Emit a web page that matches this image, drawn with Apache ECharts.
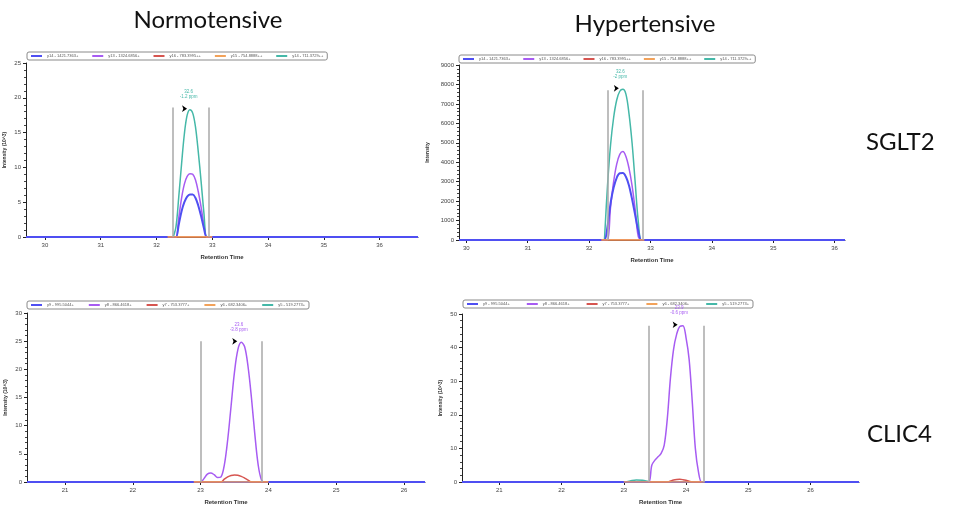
<!DOCTYPE html>
<html>
<head>
<meta charset="utf-8">
<title>SGLT2 / CLIC4 chromatograms</title>
<script src="https://cdn.jsdelivr.net/npm/echarts@6/dist/echarts.min.js"></script>
<style>
  html, body { margin: 0; padding: 0; background: #fff; }
  #chart { width: 961px; height: 506px; }
</style>
</head>
<body>
<div id="chart"></div>
<script>
// transition names shown in each legend
const sgltNames = ['y14 - 1421.7363+', 'y13 - 1324.6856+', 'y16 - 783.3995++', 'y15 - 754.8888++', 'y14 - 711.3729++']
const clicNames = ['y9 - 995.5044+', 'y8 - 866.4618+', 'y7 - 753.3777+', 'y6 - 682.3406+', 'y5 - 519.2773+']
const traceColors = ['#4f4ff2', '#a75cf2', '#d65550', '#f2a25a', '#45b8a8']

// --- SGLT2, normotensive (intensity x10^3) ---
const p1Rt     = [29.66, 32.2, 32.3, 32.35, 32.4, 32.45, 32.5, 32.55, 32.6, 32.65, 32.7, 32.75, 32.8, 32.85, 32.9, 32.95, 33.0, 36.69]
const p1Blue   = [0, 0, 0, 0, 1.8, 3.7, 5.0, 5.8, 6.1, 6.1, 5.6, 4.5, 3.0, 1.3, 0, 0, 0, 0]
const p1Purple = [null, null, 0, 0, 2.8, 5.6, 7.6, 8.7, 9.1, 9.0, 8.2, 6.5, 4.3, 1.8, 0, 0, null, null]
const p1Red    = [null, 0, 0, 0, 0, 0, 0, 0, 0, 0, 0, 0, 0, 0, 0, 0, 0, null]
const p1Orange = [null, 0, 0, 0, 0, 0, 0, 0, 0, 0, 0, 0, 0, 0, 0, 0, 0, null]
const p1Teal   = [null, null, 0, 1.5, 5.8, 10.5, 14.8, 17.5, 18.3, 17.8, 15.8, 12.2, 8.0, 3.5, 0, 0, null, null]

// --- SGLT2, hypertensive (intensity) ---
const p2Rt     = [29.88, 32.2, 32.25, 32.3, 32.35, 32.4, 32.45, 32.5, 32.55, 32.6, 32.65, 32.7, 32.75, 32.8, 32.85, 32.9, 36.17]
const p2Blue   = [0, 0, 0, 700, 1900, 2700, 3200, 3430, 3440, 3250, 2800, 2100, 1300, 500, 0, 0, 0]
const p2Purple = [null, null, 0, 0, 1700, 3000, 3900, 4400, 4550, 4300, 3700, 2800, 1600, 200, 0, 0, null]
const p2Red    = [null, 0, 0, 0, 0, 0, 0, 0, 0, 0, 0, 0, 0, 0, 0, 0, null]
const p2Orange = [null, 0, 0, 0, 0, 0, 0, 0, 0, 0, 0, 0, 0, 0, 0, 0, null]
const p2Teal   = [null, null, 0, 2800, 4900, 6300, 7200, 7650, 7750, 7500, 6500, 5000, 3000, 1000, 0, 0, null]

// --- CLIC4, normotensive (intensity x10^3) ---
const p3Rt     = [20.44, 22.9, 23.0, 23.05, 23.1, 23.15, 23.2, 23.25, 23.3, 23.35, 23.4, 23.45, 23.5, 23.55, 23.6, 23.65, 23.7, 23.75, 23.8, 23.85, 23.9, 23.95, 24.0, 26.31]
const p3Blue   = [0, 0, 0, 0, 0, 0, 0, 0, 0, 0, 0, 0, 0, 0, 0, 0, 0, 0, 0, 0, 0, 0, 0, 0]
const p3Purple = [null, 0, 0, 0.6, 1.4, 1.6, 1.3, 0.8, 0.9, 3.0, 7.5, 13.5, 19.5, 23.5, 24.8, 24.0, 20.5, 15.0, 8.5, 3.0, 0.3, 0, 0, null]
const p3Red    = [null, 0, 0, 0, 0, 0, 0, 0, 0, 0.5, 0.9, 1.15, 1.25, 1.2, 1.0, 0.7, 0.35, 0, 0, 0, 0, 0, 0, null]
const p3Orange = [null, 0, 0, 0, 0, 0, 0, 0, 0, 0, 0, 0, 0, 0, 0, 0, 0, 0, 0, 0, 0, 0, 0, null]
const p3Teal   = [null, 0, 0, 0, 0, 0, 0, 0, 0, 0, 0, 0, 0, 0, 0, 0, 0, 0, 0, 0, 0, 0, 0, null]

// --- CLIC4, hypertensive (intensity x10^3) ---
const p4Rt     = [20.4, 22.9, 23.0, 23.1, 23.2, 23.3, 23.4, 23.45, 23.5, 23.55, 23.6, 23.65, 23.7, 23.75, 23.8, 23.85, 23.9, 23.95, 24.0, 24.05, 24.1, 24.15, 24.2, 24.25, 24.3, 26.78]
const p4Blue   = [0, 0, 0, 0, 0, 0, 0, 0, 0, 0, 0, 0, 0, 0, 0, 0, 0, 0, 0, 0, 0, 0, 0, 0, 0, 0]
const p4Purple = [null, null, null, null, null, 0, 0, 5.0, 6.5, 7.5, 8.5, 11, 19, 31, 39.5, 44, 46.3, 46.5, 43, 36.5, 24, 10, 3, 0, 0, null]
const p4Red    = [null, null, null, null, null, null, 0, 0, 0, 0, 0, 0, 0, 0.3, 0.6, 0.75, 0.8, 0.7, 0.5, 0.2, 0, 0, 0, 0, null, null]
const p4Orange = [null, null, 0, 0, 0, 0, 0, 0, 0, 0, 0, 0, 0, 0, 0, 0, 0, 0, 0, 0, 0, 0, 0, 0, 0, null]
const p4Teal   = [null, 0, 0, 0.3, 0.6, 0.5, 0.1, 0, 0, 0, null, null, null, null, null, null, null, null, null, null, null, null, null, null, null, null]

// integration boundaries and peak annotations
const boundaryRt  = [[32.29, 32.93], [32.3, 32.87], [23.0, 23.9], [23.4, 24.28]]
const boundaryTop = [18.6, 7700, 25, 46.5]
const peakRt      = [32.62, 32.55, 23.6, 23.93]
const peakValue   = [18.3, 7750, 24.8, 46.5]
const peakText    = ['32.6\n-1.2 ppm', '32.6\n-2 ppm', '23.6\n-3.8 ppm', '23.9\n-0.6 ppm']
const peakTrace   = [4, 4, 1, 1]

// axis ranges and ticks
const xMin   = [29.66, 29.88, 20.44, 20.4]
const xMax   = [36.69, 36.17, 26.31, 26.78]
const xTicks = [[30, 31, 32, 33, 34, 35, 36], [30, 31, 32, 33, 34, 35, 36], [21, 22, 23, 24, 25, 26], [21, 22, 23, 24, 25, 26]]
const yMax   = [25, 9000, 30, 50]
const yStep  = [5, 1000, 5, 10]
const yName  = ['Intensity (10^3)', 'Intensity', 'Intensity (10^3)', 'Intensity (10^3)']

const panels = [
  { rt: p1Rt, traces: [p1Blue, p1Purple, p1Red, p1Orange, p1Teal], names: sgltNames },
  { rt: p2Rt, traces: [p2Blue, p2Purple, p2Red, p2Orange, p2Teal], names: sgltNames },
  { rt: p3Rt, traces: [p3Blue, p3Purple, p3Red, p3Orange, p3Teal], names: clicNames },
  { rt: p4Rt, traces: [p4Blue, p4Purple, p4Red, p4Orange, p4Teal], names: clicNames }
]

// layout (pixels)
const grids = [
  { left: 26, top: 63, width: 392, height: 174 },
  { left: 459, top: 65, width: 386, height: 175 },
  { left: 27, top: 313, width: 398, height: 174 },
  { left: 462, top: 314, width: 397, height: 170 }
]
const legendPos = [
  { left: 27, top: 52, gap: 14 },
  { left: 459, top: 55, gap: 13 },
  { left: 27, top: 301, gap: 15 },
  { left: 463, top: 300, gap: 17 }
]
const yNameGap = [19, 29, 19, 19]

const chart = echarts.init(document.getElementById('chart'))
const font = 'Liberation Sans'
const drawOrder = [1, 4, 0, 2, 3]

const xAxes = [], yAxes = [], series = [], legends = []
panels.forEach((p, i) => {
  xAxes.push({
    type: 'value', gridIndex: i, min: xMin[i], max: xMax[i],
    name: 'Retention Time', nameLocation: 'middle', nameGap: 17,
    nameTextStyle: { fontFamily: font, fontSize: 6, fontWeight: 'bold', color: '#333' },
    axisLine: { lineStyle: { color: '#222', width: 1 } },
    axisTick: { customValues: xTicks[i], length: 3, lineStyle: { color: '#222' } },
    axisLabel: { customValues: xTicks[i], fontFamily: font, fontSize: 6, color: '#444', margin: 5 },
    splitLine: { show: false }
  })
  yAxes.push({
    type: 'value', gridIndex: i, min: 0, max: yMax[i], interval: yStep[i],
    name: yName[i], nameLocation: 'middle', nameGap: yNameGap[i],
    nameTextStyle: { fontFamily: font, fontSize: 5, fontWeight: 'bold', color: '#333' },
    axisLine: { show: true, lineStyle: { color: '#222', width: 1 } },
    axisTick: { show: true, length: 3, lineStyle: { color: '#222' } },
    minorTick: { show: true, splitNumber: 5, length: 2, lineStyle: { color: '#444' } },
    axisLabel: { fontFamily: font, fontSize: 6, color: '#444', margin: 5, formatter: v => String(v) },
    splitLine: { show: false }
  })
  legends.push({
    left: legendPos[i].left, top: legendPos[i].top, orient: 'horizontal',
    data: p.names, icon: 'rect', itemWidth: 11, itemHeight: 2, itemGap: legendPos[i].gap,
    padding: [2, 4], borderColor: '#8a8a8a', borderWidth: 1, borderRadius: 2,
    textStyle: { fontFamily: font, fontSize: 4, color: '#555' }
  })
  drawOrder.forEach(k => {
    const s = {
      type: 'line', name: p.names[k], xAxisIndex: i, yAxisIndex: i,
      data: p.rt.map((t, j) => [t, p.traces[k][j]]),
      showSymbol: false, smooth: 0.35, connectNulls: false,
      color: traceColors[k],
      lineStyle: { width: k === 0 ? 2 : 1.5, color: traceColors[k] },
      emphasis: { disabled: true }
    }
    if (k === 0) {
      s.markLine = {
        silent: true, symbol: 'none', animation: false,
        lineStyle: { color: '#a8a8a8', width: 1.5, type: 'solid' },
        label: { show: false },
        data: boundaryRt[i].map(b => [{ coord: [b, 0] }, { coord: [b, boundaryTop[i]] }])
      }
    }
    if (k === peakTrace[i]) {
      s.markPoint = {
        silent: true, animation: false,
        symbol: 'arrow', symbolSize: [5, 5], symbolRotate: -90, symbolOffset: [-4, -1],
        itemStyle: { color: '#000' },
        label: {
          show: true, position: 'top', offset: [4, -1], formatter: peakText[i],
          fontFamily: font, fontSize: 4.5, lineHeight: 5, color: traceColors[k]
        },
        data: [{ coord: [peakRt[i], peakValue[i]] }]
      }
    }
    series.push(s)
  })
})

const titleStyle = { fontFamily: 'Lato', fontSize: 24, fontWeight: 'normal', color: '#111' }
const option = {
  animation: false,
  backgroundColor: '#fff',
  title: [
    { text: 'Normotensive', left: 203, top: 3, textAlign: 'center', textStyle: titleStyle },
    { text: 'Hypertensive', left: 640, top: 7, textAlign: 'center', textStyle: titleStyle },
    { text: 'SGLT2', left: 861, top: 125, textStyle: titleStyle },
    { text: 'CLIC4', left: 862, top: 417, textStyle: titleStyle }
  ],
  legend: legends,
  grid: grids,
  xAxis: xAxes,
  yAxis: yAxes,
  series: series
}

chart.setOption(option)
</script>
</body>
</html>
